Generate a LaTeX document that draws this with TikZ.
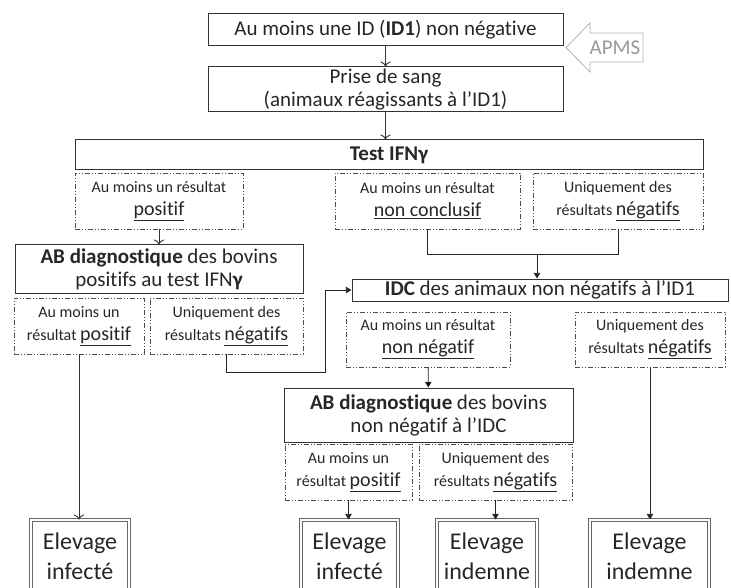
\documentclass[tikz,border=0pt]{standalone}
\usepackage{fontspec}
\setmainfont{Carlito}[Ligatures=NoCommon]
\usetikzlibrary{positioning}
\usetikzlibrary{arrows.meta}

\newcommand{\keyword}[1]{{\fontsize{20}{23}\selectfont\underline{#1}}}

\begin{document}
\begin{tikzpicture}[x=1pt,y=-1pt,
    every node/.style={align=center,inner sep=1pt,text=black!85,font=\fontsize{21}{23}\selectfont},
    box/.style={draw=black!80,line width=1pt},
    res/.style={draw=black!70,line width=0.8pt,dash pattern=on 5pt off 2pt on 1pt off 2pt on 1pt off 2pt,font=\fontsize{16}{23}\selectfont},
    farm/.style={draw=black!60,double=white,double distance=1.3pt,line width=1pt,font=\fontsize{24}{30}\selectfont},
    vtip/.style={draw=black!80,line width=0.9pt,-{To[scale=1.4]}},
    ftip/.style={draw=black!85,line width=0.9pt,-{Triangle[scale=1.1]}}]
    \useasboundingbox (0,0) rectangle (731,588);

    \node (id1)[box,minimum width=355pt,minimum height=32pt] at (385.5, 30) {Au moins une ID (\textbf{ID1}) non négative};
    \draw [draw=gray!60,line width=0.8pt] (566,47.5) -- (590,23) -- (590,33) -- (643,33) -- (643,62) -- (590,62) -- (590,72) -- cycle;
    \node (apms)[text=gray!80] at (615, 47.5) {APMS};
    \node (sang)[box,minimum width=355pt,minimum height=45pt,inner sep=0.5pt] at (385.5, 89.5) {Prise de sang \\ (animaux réagissants à l’ID1)};
    \node (ifn)[box,minimum width=628pt,minimum height=30pt] at (389, 155) {\textbf{Test IFNγ}};

    \node (pos1)[res,minimum width=168pt,minimum height=56pt] at (159, 201) {Au moins un résultat \\ \keyword{positif}};
    \node (nc)[res,minimum width=185pt,minimum height=56pt] at (427.5, 201) {Au moins un résultat \\ \keyword{non conclusif}};
    \node (neg1)[res,minimum width=170pt,minimum height=56pt] at (618, 201) {Uniquement des \\ résultats \keyword{négatifs}};

    \node (ab1)[box,minimum width=288pt,minimum height=48pt,inner sep=0.5pt] at (159, 269) {\textbf{AB diagnostique} des bovins \\ positifs au test IFN\textbf{γ}};
    \node (idc)[box,minimum width=376pt,minimum height=22pt,inner sep=0pt] at (540, 290) {\textbf{IDC} des animaux non négatifs à l’ID1};

    \node (pos2)[res,minimum width=130pt,minimum height=56pt] at (79, 326) {Au moins un \\ résultat \keyword{positif}};
    \node (neg2)[res,minimum width=153pt,minimum height=56pt] at (226.5, 326) {Uniquement des \\ résultats \keyword{négatifs}};
    \node (nn)[res,minimum width=164pt,minimum height=55pt] at (428, 339.5) {Au moins un résultat \\ \keyword{non négatif}};
    \node (neg3)[res,minimum width=150pt,minimum height=55pt] at (650, 339.5) {Uniquement des \\ résultats \keyword{négatifs}};

    \node (ab2)[box,minimum width=289pt,minimum height=54pt] at (428.5, 415) {\textbf{AB diagnostique} des bovins \\ non négatif à l’IDC};
    \node (pos3)[res,minimum width=127pt,minimum height=56pt] at (348.5, 472) {Au moins un \\ résultat \keyword{positif}};
    \node (neg4)[res,minimum width=153pt,minimum height=56pt] at (495.5, 472) {Uniquement des \\ résultats \keyword{négatifs}};

    \node (e1)[farm,minimum width=98pt,minimum height=72pt] at (80, 556) {Elevage \\ infecté};
    \node (e2)[farm,minimum width=97pt,minimum height=72pt] at (349.5, 556) {Elevage \\ infecté};
    \node (e3)[farm,minimum width=100pt,minimum height=72pt] at (487, 556) {Elevage \\ indemne};
    \node (e4)[farm,minimum width=119pt,minimum height=72pt] at (649.5, 556) {Elevage \\ indemne};

    \coordinate (join) at (537, 254);
    \coordinate (bend) at (325, 372);

    \path [vtip] (id1) edge (sang);
    \draw [vtip] (sang.south) -- (sang.south |- ifn.north);
    \path [vtip] (pos1) edge (ab1);
    \draw [draw=black!85,line width=0.9pt] (nc.south) |- (join);
    \draw [draw=black!85,line width=0.9pt] (neg1.south) |- (join);
    \draw [ftip] (join) -- (join |- idc.north);
    \draw [ftip] (neg2.south) |- (bend) |- (idc.west);
    \path [ftip] (nn) edge (ab2);
    \draw [vtip] (pos2.south) -- (pos2.south |- e1.north);
    \draw [ftip] (pos3.south) -- (pos3.south |- e2.north);
    \draw [ftip] (neg4.south) -- (neg4.south |- e3.north);
    \draw [ftip] (neg3.south) -- (neg3.south |- e4.north);
\end{tikzpicture}
\end{document}
